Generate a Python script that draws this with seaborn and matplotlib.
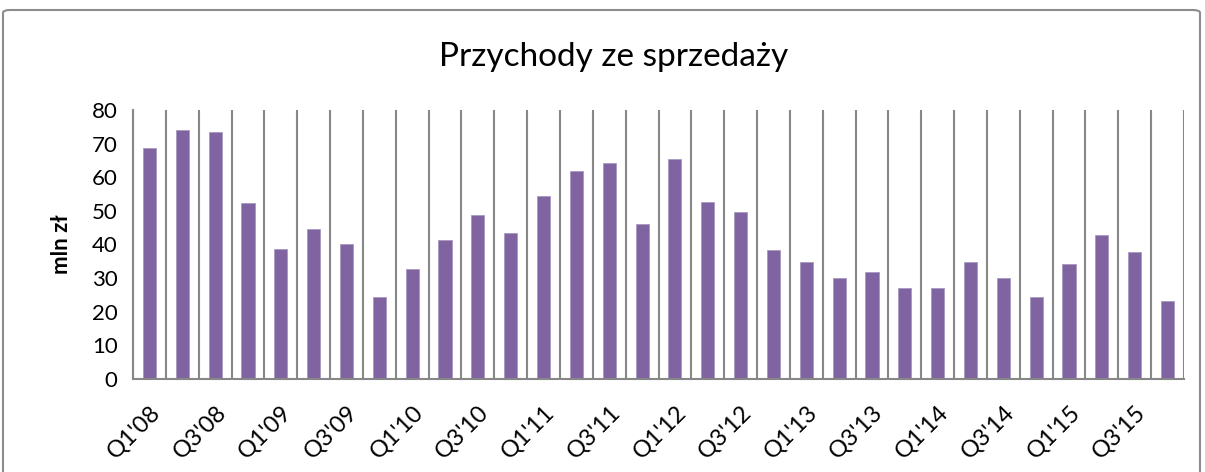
import matplotlib
matplotlib.use("Agg")
import matplotlib.pyplot as plt
import seaborn as sns
import numpy as np
import pandas as pd
from matplotlib.patches import FancyBboxPatch

quarters = [f"Q{q}'{y:02d}" for y in range(8, 16) for q in range(1, 5)]
values = [68.8, 74.0, 73.6, 52.2, 38.8, 44.6, 40.2, 24.3,
          32.6, 41.2, 48.8, 43.3, 54.3, 62.0, 64.3, 46.2,
          65.4, 52.5, 49.6, 38.3, 34.8, 30.0, 31.7, 27.1,
          27.0, 34.8, 29.9, 24.4, 34.3, 42.7, 37.8, 23.2]
title = "Przychody ze sprzedaży"
ylabel = "mln zł"
yticks = [0, 10, 20, 30, 40, 50, 60, 70, 80]

df = pd.DataFrame({"kwartal": quarters, "przychody": values})

sns.set_style("white")
plt.rcParams["font.family"] = ["Lato", "DejaVu Sans"]

W, H = 1205, 472
fig = plt.figure(figsize=(W / 100, H / 100), dpi=100)
ax = fig.add_axes([133 / W, 1 - 379 / H, (1184 - 133) / W, (379 - 110) / H])

grid_c = "#878787"
sns.barplot(data=df, x="kwartal", y="przychody", color="#8064A2",
            saturation=1, width=0.4, ax=ax, edgecolor="#A898C0", linewidth=0.6)

n = len(quarters)
ax.set_xlim(-0.5, n - 0.5)
ax.set_ylim(0, 80)
ax.set_yticks(yticks)
ax.set_yticklabels([str(v) for v in yticks], fontsize=16, color="black")

major = list(range(0, n, 2))
ax.set_xticks(major)
ax.set_xticklabels([quarters[i] for i in major], rotation=45, ha="right",
                   va="top", rotation_mode="anchor", fontsize=17, color="black")
ax.set_xticks(np.arange(-0.5, n, 1.0), minor=True)
ax.tick_params(axis="x", which="major", length=0, pad=16)
ax.tick_params(axis="x", which="minor", length=7, width=1.5, color=grid_c, direction="out")
ax.tick_params(axis="y", length=7, width=1.5, color=grid_c, direction="out", pad=4)
ax.xaxis.grid(True, which="minor", color=grid_c, linewidth=1.5)
ax.yaxis.grid(False)
ax.set_axisbelow(True)
ax.set_xlabel("")
ax.set_ylabel(ylabel, fontsize=16, fontweight="bold", labelpad=14, color="black")

for s in ["top", "right"]:
    ax.spines[s].set_visible(False)
for s in ["left", "bottom"]:
    ax.spines[s].set_color(grid_c)
    ax.spines[s].set_linewidth(1.5)

fig.text((437 + 790) / 2 / W, 1 - 57 / H, title, ha="center", va="center",
         fontsize=24, fontweight="normal", color="black")

border = FancyBboxPatch((3 / W, -20 / H), (1200 - 3) / W, (472 + 10) / H,
                        boxstyle="round,pad=0,rounding_size=0.006",
                        transform=fig.transFigure, fill=False,
                        edgecolor="#8C8C8C", linewidth=1.5)
fig.patches.append(border)

fig.savefig("out.png", dpi=100)
